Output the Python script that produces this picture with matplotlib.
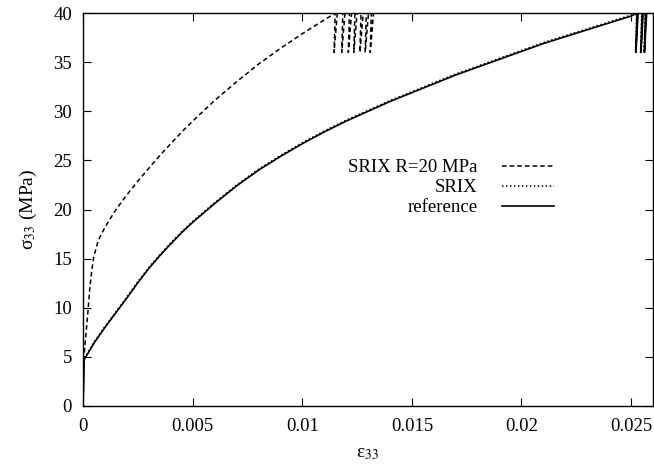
# stress_strain_srix.py
# sigma_33 vs eps_33 under cyclic loading (SRIX, SRIX R=20 MPa, reference)

import matplotlib
matplotlib.use("Agg")
import matplotlib.pyplot as plt

plt.rcParams['font.family'] = ['Liberation Serif', 'DejaVu Serif']
plt.rcParams['mathtext.fontset'] = 'stix'

# ---- data ----
# reference (solid)
eps_ref = [0, 0.00005, 0.0005, 0.001, 0.0015, 0.002, 0.0025, 0.003, 0.0035, 0.004,
           0.0045, 0.005, 0.006,
           0.007, 0.008, 0.009, 0.010, 0.011, 0.012, 0.013, 0.014, 0.015, 0.016,
           0.017, 0.018, 0.019, 0.020, 0.021, 0.022, 0.023, 0.024, 0.025, 0.02527,
           0.02522, 0.02532, 0.02550, 0.02545, 0.02555, 0.02566, 0.02561, 0.02571]
sig_ref = [0, 4.7, 6.4, 8.0, 9.5, 11.0, 12.55, 14.0, 15.3, 16.5,
           17.65, 18.7, 20.6,
           22.4, 24.0, 25.4, 26.7, 27.9, 29.0, 30.0, 31.0, 31.9, 32.8,
           33.7, 34.5, 35.3, 36.1, 36.9, 37.6, 38.3, 39.0, 39.7, 40.0,
           36.0, 40.0, 40.0, 36.0, 40.0, 40.0, 36.0, 40.0]

# SRIX (dotted), nearly on top of the reference
eps_srix = [0, 0.00005, 0.0005, 0.001, 0.0015, 0.002, 0.0025, 0.003, 0.0035, 0.004,
            0.0045, 0.005, 0.006,
            0.007, 0.008, 0.009, 0.010, 0.011, 0.012, 0.013, 0.014, 0.015, 0.016,
            0.017, 0.018, 0.019, 0.020, 0.021, 0.022, 0.023, 0.024, 0.025, 0.02525,
            0.02520, 0.02530, 0.02548, 0.02543, 0.02553, 0.02564, 0.02559, 0.02569]
sig_srix = [0, 4.8, 6.5, 8.1, 9.6, 11.1, 12.65, 14.1, 15.4, 16.6,
            17.75, 18.8, 20.7,
            22.5, 24.1, 25.5, 26.8, 28.0, 29.1, 30.1, 31.1, 32.0, 32.9,
            33.8, 34.6, 35.4, 36.2, 37.0, 37.7, 38.4, 39.1, 39.8, 40.0,
            36.0, 40.0, 40.0, 36.0, 40.0, 40.0, 36.0, 40.0]

# SRIX R=20 MPa (dashed)
eps_r20 = [0, 0.00003, 0.0001, 0.0002, 0.0003, 0.0004, 0.0005, 0.0007, 0.001, 0.0015,
           0.002, 0.0025, 0.003, 0.0035, 0.004, 0.0045, 0.005, 0.006, 0.007, 0.008,
           0.009, 0.010, 0.011, 0.0115,
           0.01145, 0.01160, 0.01185, 0.01180, 0.01195, 0.01215, 0.01210, 0.01225,
           0.01240, 0.01235, 0.01250, 0.01268, 0.01263, 0.01278, 0.01292, 0.01287,
           0.01302, 0.01315, 0.01310, 0.01325]
sig_r20 = [0, 4.7, 6.5, 9.0, 11.8, 13.9, 15.3, 16.9, 18.2, 20.0,
           21.5, 22.9, 24.2, 25.5, 26.7, 27.9, 29.0, 31.1, 33.0, 34.8,
           36.4, 37.9, 39.3, 40.0,
           36.0, 40.0, 40.0, 36.0, 40.0, 40.0, 36.0, 40.0,
           40.0, 36.0, 40.0, 40.0, 36.0, 40.0, 40.0, 36.0,
           40.0, 40.0, 36.0, 40.0]

x_ticks = [0, 0.005, 0.01, 0.015, 0.02, 0.025]
x_tick_labels = ['0', '0.005', '0.01', '0.015', '0.02', '0.025']
y_ticks = [0, 5, 10, 15, 20, 25, 30, 35, 40]

fig = plt.figure(figsize=(6.54, 4.68), dpi=100)
ax = fig.add_axes([0.127, 0.1325, 0.8715, 0.8395])

ax.plot(eps_r20, sig_r20, color='black', lw=1.1, dashes=(3.0, 2.0),
        label='SRIX R=20 MPa')
ax.plot(eps_srix, sig_srix, color='black', lw=1.1, dashes=(1.0, 1.6),
        label='SRIX')
ax.plot(eps_ref, sig_ref, color='black', lw=1.2, label='reference')

ax.set_xlim(0, 0.026)
ax.set_ylim(0, 40)
ax.set_xticks(x_ticks)
ax.set_xticklabels(x_tick_labels)
ax.set_yticks(y_ticks)
ax.tick_params(direction='in', length=6, width=0.8, top=True, right=True,
               labelsize=13.5, colors='black')
ax.tick_params(axis='x', pad=9)
ax.tick_params(axis='y', pad=8)
for s in ax.spines.values():
    s.set_linewidth(1.0)

ax.set_xlabel('ε$_{33}$', fontsize=14, labelpad=7)
ax.set_ylabel('σ$_{33}$ (MPa)', fontsize=14, labelpad=10)

leg = ax.legend(loc='upper left', bbox_to_anchor=(0.448, 0.652), frameon=False,
                markerfirst=False, fontsize=13.5, handlelength=2.8,
                handletextpad=1.3, labelspacing=0.15, borderpad=0)
# right-align labels like gnuplot keys
for col in leg._legend_handle_box.get_children():
    col.align = 'right'

fig.savefig('out.png', dpi=100)
